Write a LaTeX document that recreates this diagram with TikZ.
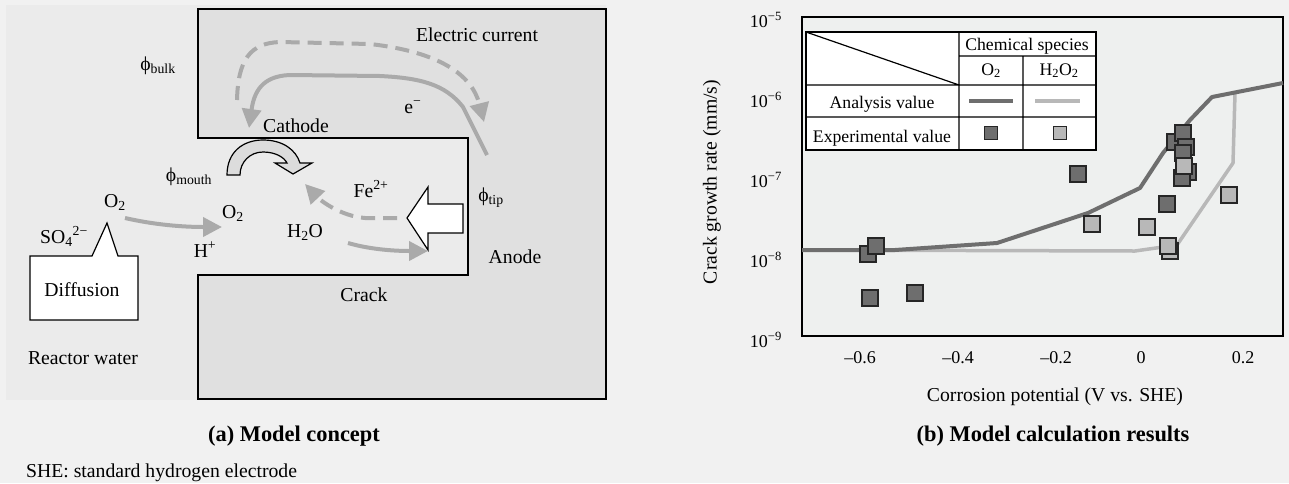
\documentclass[tikz,border=0pt]{standalone}
\usepackage{fontspec}
\setmainfont{Liberation Serif}
\usetikzlibrary{arrows.meta}

\definecolor{bggray}{HTML}{F1F1F1}
\definecolor{panelgray}{HTML}{EBEBEB}
\definecolor{metalgray}{HTML}{E0E0E0}
\definecolor{plotgray}{HTML}{EEF0EF}
\definecolor{arrgray}{HTML}{AAAAAA}
\definecolor{dkgray}{HTML}{6E6E6E}
\definecolor{ltgray}{HTML}{B8B8B8}
\definecolor{bendgray}{HTML}{DCDCDC}

\tikzset{
    txt/.style={font=\fontsize{19.7}{23}\selectfont, inner sep=0pt, anchor=base},
    tabtxt/.style={font=\fontsize{17.7}{21}\selectfont, inner sep=0pt, anchor=base},
    ticktxt/.style={font=\fontsize{18}{21}\selectfont, inner sep=0pt},
    captxt/.style={font=\fontsize{22.4}{26}\selectfont\bfseries, inner sep=0pt, anchor=base},
    flow/.style={draw=arrgray, line width=4pt, -{Triangle[length=19pt, width=19pt]}},
    flowdash/.style={flow, dash pattern=on 14pt off 8pt},
    dkline/.style={draw=dkgray, line width=4pt, line join=round},
    ltline/.style={draw=ltgray, line width=3.5pt, line join=round},
    dksq/.style={draw=black!85, line width=1.6pt, fill=dkgray},
    ltsq/.style={draw=black!85, line width=1.6pt, fill=ltgray},
    outline/.style={draw=black, line width=1.2pt, line join=miter},
}

\begin{document}
\begin{tikzpicture}[x=1pt, y=-1pt]
    \useasboundingbox (0,0) rectangle (1289,483);
    \fill[bggray] (0,0) rectangle (1289,483);

    \def \hs {8}
    \def \ls {6.5}

    % (a) model concept
    \fill[panelgray] (6,5) rectangle (606,400);
    \draw[fill=metalgray, line width=2.5pt, line join=miter] (198,9) -- (606,9) -- (606,399) -- (198,399) -- (198,275) -- (468,275) -- (468,138) -- (198,138) -- cycle;

    \draw[flowdash] (237,100) .. controls (238,60) and (250,43) .. (280,42) -- (370,44) .. controls (440,52) and (472,75) .. (484,122);
    \draw[flow] (487,155) -- (463,107) .. controls (445,84) and (420,78) .. (380,76) -- (290,75) .. controls (262,76) and (254,92) .. (249,128);

    \draw[outline, fill=bendgray] (227,175) .. controls (227,152) and (243,140) .. (263,140) .. controls (283,140) and (296,150) .. (300,163) -- (312,163) -- (293,174) -- (275,163) -- (287,163) .. controls (284,157) and (275,152) .. (263,152) .. controls (250,152) and (240,162) .. (240,175) -- cycle;
    \draw[outline, fill=white] (463,204) -- (428,204) -- (428,187) -- (407,218) -- (428,250) -- (428,233) -- (463,233) -- cycle;

    \draw[flow] (125,218) .. controls (160,226) and (190,227) .. (222,227);
    \draw[flowdash] (397,218) -- (365,218) .. controls (340,216) and (320,200) .. (305,184);
    \draw[flow] (348,243) .. controls (372,250) and (398,251) .. (428,251);

    \draw[outline, fill=white] (30,256) -- (92,256) -- (107,223) -- (118,256) -- (138,256) -- (138,320) -- (30,320) -- cycle;

    \node[txt] (cur) at (477,41) {Electric current};
    \node[txt] (phib) at (158,70) {ϕ\textsubscript{bulk}};
    \node[txt] (elec) at (413,113) {e\textsuperscript{−}};
    \node[txt] (cath) at (296,132) {Cathode};
    \node[txt] (phim) at (189,181) {ϕ\textsubscript{mouth}};
    \node[txt] (oxa) at (115,207) {O\textsubscript{2}};
    \node[txt] (oxb) at (233,218) {O\textsubscript{2}};
    \node[txt] (hplus) at (205,257) {H\textsuperscript{+}};
    \node[txt] (water) at (305,237) {H\textsubscript{2}O};
    \node[txt] (iron) at (371,197) {Fe\textsuperscript{2+}};
    \node[txt] (phit) at (491,201) {ϕ\textsubscript{tip}};
    \node[txt] (anode) at (515,263) {Anode};
    \node[txt] (crack) at (364,301) {Crack};
    \node[txt] (sulf) at (64,243) {SO\textsubscript{4}\textsuperscript{2−}};
    \node[txt] (diff) at (82,296) {Diffusion};
    \node[txt] (reac) at (83,364) {Reactor water};
    \node[captxt] (capa) at (294,441) {(a) Model concept};
    \node[txt, anchor=base west] (she) at (26,477) {SHE: standard hydrogen electrode};

    % (b) model calculation results
    \draw[fill=plotgray, line width=2.5pt] (802,17) rectangle (1283,336);

    \draw[ltline] (802,250) -- (1135,251) -- (1177,245) -- (1233,163) -- (1235,93);
    \draw[dkline] (802,250) -- (895,250) -- (997,243) -- (1088,213) -- (1140,188) -- (1163,153) -- (1190,120) -- (1212,97) -- (1283,83);

    \foreach \x/\y in {868/254, 876/246, 870/298, 915/293, 1078/174, 1167/204, 1188/172, 1182/178, 1175/142, 1183/133, 1186/147, 1183/153}
        \draw[dksq] (\x-\hs,\y-\hs) rectangle (\x+\hs,\y+\hs);
    \foreach \x/\y in {1092/224, 1147/227, 1170/251, 1168/246, 1229/195, 1184/166}
        \draw[ltsq] (\x-\hs,\y-\hs) rectangle (\x+\hs,\y+\hs);

    % legend table
    \draw[fill=white, line width=1.2pt] (806,32) rectangle (1096,150);
    \draw[line width=1.2pt] (959,32) -- (959,150) (959,56) -- (1096,56) (1023,56) -- (1023,150) (806,85) -- (1096,85) (806,117) -- (1096,117) (806,32) -- (959,85);
    \node[tabtxt] (spec) at (1027,50) {Chemical species};
    \node[tabtxt] (colo) at (991,75) {O\textsubscript{2}};
    \node[tabtxt] (colh) at (1059,75) {H\textsubscript{2}O\textsubscript{2}};
    \node[tabtxt] (rowa) at (882,108) {Analysis value};
    \node[tabtxt] (rowe) at (882,142) {Experimental value};
    \draw[dkline] (969,101) -- (1013,101);
    \draw[ltline] (1035,101) -- (1080,101);
    \draw[dksq] (991-\ls,133-\ls) rectangle (991+\ls,133+\ls);
    \draw[ltsq] (1060-\ls,133-\ls) rectangle (1060+\ls,133+\ls);

    % axes labels
    \foreach \e/\y in {5/17, 6/97, 7/177, 8/257, 9/337}
        \node[ticktxt, anchor=base east] at (782,\y+10) {10\textsuperscript{−\e}};
    \foreach \v/\x in {–0.6/860, –0.4/958, –0.2/1056, 0/1141, 0.2/1243}
        \node[ticktxt, anchor=base] at (\x,363) {\v};
    \node[txt, anchor=center, rotate=90] (ylab) at (712,182) {Crack growth rate (mm/s)};
    \node[txt] (xlab) at (1055,401) {Corrosion potential (V vs. SHE)};
    \node[captxt] (capb) at (1053,441) {(b) Model calculation results};
\end{tikzpicture}
\end{document}
